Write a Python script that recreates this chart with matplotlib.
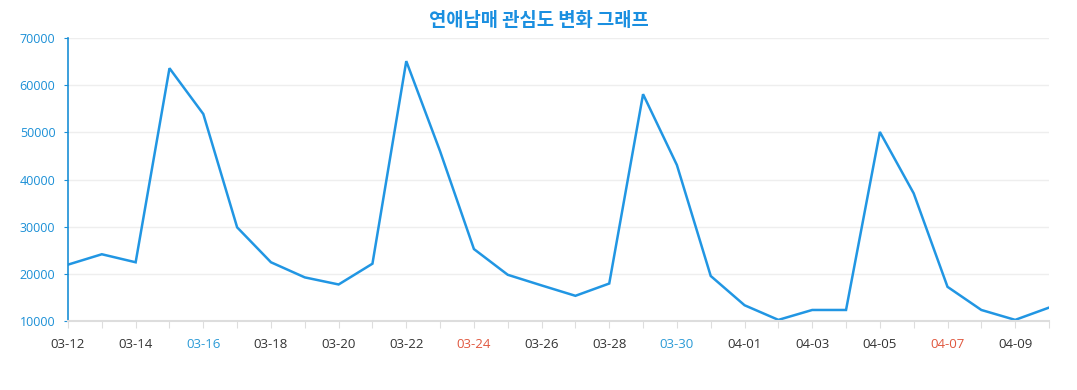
import matplotlib
matplotlib.use("Agg")
import matplotlib.pyplot as plt

dates = ["03-12","03-13","03-14","03-15","03-16","03-17","03-18","03-19","03-20","03-21",
         "03-22","03-23","03-24","03-25","03-26","03-27","03-28","03-29","03-30","03-31",
         "04-01","04-02","04-03","04-04","04-05","04-06","04-07","04-08","04-09","04-10"]
values = [22000, 24200, 22500, 63600, 53900, 29900, 22500, 19300, 17800, 22200,
          65100, 46000, 25300, 19850, 17600, 15400, 18000, 58100, 43100, 19600,
          13400, 10300, 12400, 12400, 50100, 37100, 17300, 12400, 10300, 12900]
blue_labels = ["03-16", "03-30"]
red_labels = ["03-24", "04-07"]
title = "연애남매 관심도 변화 그래프"

plt.rcParams['font.family'] = ['Open Sans', 'Noto Sans CJK KR', 'DejaVu Sans']

fig = plt.figure(figsize=(10.77, 3.90), dpi=100)
ax = fig.add_axes([68/1077, 1-321.3/390, (1049-68)/1077, (321.3-38)/390])

x = list(range(len(dates)))
ax.plot(x, values, color="#2196e3", lw=1.8, solid_joinstyle="miter")

ax.set_xlim(0, len(dates)-1)
ax.set_ylim(10000, 70000)
ax.set_yticks(range(10000, 70001, 10000))
ax.set_xticks(x, minor=False)
labels = [d if i % 2 == 0 else "" for i, d in enumerate(dates)]
ax.set_xticklabels(labels)
for lab, d in zip(ax.get_xticklabels(), dates):
    if d in blue_labels:
        lab.set_color("#2a9ad6")
    elif d in red_labels:
        lab.set_color("#e0573e")
    else:
        lab.set_color("#333333")

ax.grid(axis="y", color="#eeeeee", lw=1)
ax.set_axisbelow(True)
for s in ["top", "right"]:
    ax.spines[s].set_visible(False)
ax.spines["left"].set_color("#1a8fd6")
ax.spines["left"].set_linewidth(1.2)
ax.spines["bottom"].set_color("#dddddd")
ax.spines["bottom"].set_linewidth(1.5)

ax.tick_params(axis="y", colors="#1a8fd6", labelsize=9, length=3, pad=6)
ax.tick_params(axis="y", labelcolor="#1a8fd6")
ax.tick_params(axis="x", color="#dddddd", length=5, labelsize=9.5, pad=7)

fig.text(0.5, 1-20/390, title, ha="center", va="center", fontsize=13.5,
         fontweight="bold", color="#1a8fe0", family=['Noto Sans CJK KR', 'DejaVu Sans'])

fig.savefig("out.png", dpi=100)
